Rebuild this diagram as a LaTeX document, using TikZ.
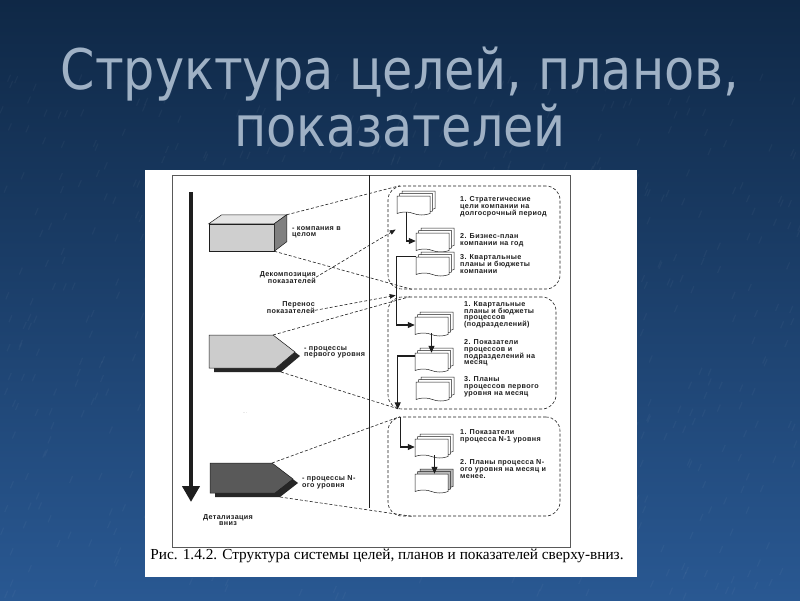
\documentclass[tikz,border=0pt]{standalone}
\usepackage{fontspec}
\usepackage{tikz}
\usetikzlibrary{arrows.meta,shapes.symbols,shadows}
\newfontfamily\titlefont[FakeStretch=0.88]{DejaVu Sans}
\newfontfamily\lblfont[LetterSpace=5]{Liberation Sans}
\newfontfamily\capfont{Liberation Serif}
\definecolor{bgtop}{HTML}{0F2846}
\definecolor{bgmid}{HTML}{1E4A82}
\definecolor{bgbot}{HTML}{295892}
\definecolor{titlegray}{HTML}{9FB1C5}
\definecolor{ink}{HTML}{1E1E1E}

\begin{document}
\begin{tikzpicture}[x=1pt,y=-1pt,
  title/.style={font=\titlefont\fontsize{56}{60}\selectfont,anchor=base,inner sep=0pt,text=titlegray},
  txt/.style={font=\lblfont\bfseries\fontsize{7.2}{6.9}\selectfont,text=ink,align=left,inner sep=0pt},
  doc/.style={tape,tape bend top=none,tape bend bottom=out and in,tape bend height=3pt,
    draw=ink,fill=white,line width=0.5pt,minimum width=33pt,minimum height=19pt,inner sep=0pt},
  stack/.style={doc,double copy shadow={shadow xshift=2.5pt,shadow yshift=2.5pt}},
  greystack/.style={doc,double copy shadow={shadow xshift=2.5pt,shadow yshift=2.5pt,fill=gray!55}},
  levbox/.style={draw=ink,dash pattern=on 3pt off 2pt,rounded corners=14pt,line width=0.6pt},
  link/.style={draw=ink,line width=1.1pt,-{Triangle[length=7pt,width=6pt]}},
  dashlink/.style={draw=ink,line width=0.6pt,dash pattern=on 3pt off 2pt}]
\useasboundingbox (0,0) rectangle (800,600);
\shade[top color=bgtop,middle color=bgmid,bottom color=bgbot] (0,0) rectangle (800,600);
% texture
\pgfmathsetseed{11}
\foreach \i in {1,...,700}{
  \pgfmathsetmacro\rx{800*rnd}
  \pgfmathsetmacro\ry{80+520*rnd}
  \draw[white,opacity=0.035,line width=1.2pt] (\rx,\ry) -- ++(3,-7);
}

% title
\node[title] (title1) at (400,89) {Структура целей, планов,};
\node[title] (title2) at (400,146) {показателей};

% sheet
\fill[white] (145,170) rectangle (637,577);
\draw[gray!70!black,line width=0.6pt] (172,175) rectangle (570,547);
\draw[ink,line width=0.5pt] (369,175) -- (369,508);
\node[font=\capfont\fontsize{15.3}{17}\selectfont,anchor=base] (caption) at (387,559)
  {Рис. 1.4.2. Структура системы целей, планов и показателей сверху-вниз.};

% left column
\draw[ink,line width=4.5pt,-{Triangle[length=16pt,width=17pt]}] (191,192) -- (191,502);
\node[txt,align=center] (detail) at (228,520) {Детализация\\вниз};

\node[draw=ink,fill=black!19,minimum width=65pt,minimum height=27pt,inner sep=0pt,line width=0.5pt] (comp) at (241.5,237.5) {};
\filldraw[fill=black!10,draw=ink,line width=0.5pt] (comp.north west) -- ++(13,-9) -- ++(65,0) coordinate (compBack) -- (comp.north east) -- cycle;
\filldraw[fill=black!50,draw=ink,line width=0.5pt] (comp.north east) -- (compBack) -- ++(0,27) -- (comp.south east) -- cycle;
\node[txt,anchor=north west] (compLbl) at (292,226) {- компания в\\целом};

\fill[black!85] (214,339) -- (278,339) -- (300,356) -- (281,372) coordinate (procLow1) -- (214,372) -- cycle;
\filldraw[fill=black!20,draw=ink,line width=0.5pt] (209,335) -- (273,335) coordinate (procTop1) -- (295,352) -- (276,368) -- (209,368) -- cycle;
\node[txt,anchor=north west] (procLbl1) at (304,346) {- процессы\\первого уровня};
\node[font=\lblfont\fontsize{4}{4}\selectfont,text=gray] (dots) at (245,413) {...};

\fill[black!85] (215,467) -- (277,467) -- (298,483) -- (280,497) coordinate (procLow2) -- (215,497) -- cycle;
\filldraw[fill=black!65,draw=ink,line width=0.5pt] (210,463) -- (272,463) coordinate (procTop2) -- (293,479) -- (275,493) -- (210,493) -- cycle;
\node[txt,anchor=north west] (procLbl2) at (302,475) {- процессы N-\\ого уровня};

\node[txt,align=right,anchor=north east] (decomp) at (316,271) {Декомпозиция\\показателей};
\node[txt,align=right,anchor=north east] (transfer) at (315,301) {Перенос\\показателей};

% levels
\node[levbox,minimum width=172pt,minimum height=103pt] (levA) at (474,237.5) {};
\node[levbox,minimum width=168pt,minimum height=112pt] (levB) at (472,353) {};
\node[levbox,minimum width=172pt,minimum height=99pt] (levC) at (474,466.5) {};

\node[stack] (A1) at (413.5,204) {};
\node[stack] (A2) at (432.5,241) {};
\node[stack] (A3) at (432.5,265) {};
\node[stack] (B1) at (431.5,325) {};
\node[stack] (B2) at (431.5,361) {};
\node[stack] (B3) at (432.5,390) {};
\node[stack] (C1) at (431.5,447) {};
\node[greystack] (C2) at (431.5,482) {};

\node[txt,anchor=north west] (A1txt) at (460,196) {1. Стратегические\\цели компании на\\долгосрочный период};
\node[txt,anchor=north west] (A2txt) at (460,233) {2. Бизнес-план\\компании на год};
\node[txt,anchor=north west] (A3txt) at (460,254) {3. Квартальные\\планы и бюджеты\\компании};
\node[txt,anchor=north west] (B1txt) at (464,301) {1. Квартальные\\планы и бюджеты\\процессов\\(подразделений)};
\node[txt,anchor=north west] (B2txt) at (464,339) {2. Показатели\\процессов и\\подразделений на\\месяц};
\node[txt,anchor=north west] (B3txt) at (464,376) {3. Планы\\процессов первого\\уровня на месяц};
\node[txt,anchor=north west] (C1txt) at (460,429) {1. Показатели\\процесса N-1 уровня};
\node[txt,anchor=north west] (C2txt) at (460,459) {2. Планы процесса N-\\ого уровня на месяц и\\менее.};

% flow
\draw[link] ([xshift=-7pt]A1.south) |- (A2.west);
\draw[link] (A3.north west) -- ++(-19,0) |- (B1.west);
\draw[link] (B1.south) -- (B2.north);
\draw[link] ([yshift=5pt]B2.west) -| ([xshift=10pt]levB.south west);
\draw[link] ([xshift=13pt]levC.north west) |- (C1.west);
\draw[link] ([xshift=3pt]C1.south) -- ([xshift=3pt]C2.north);

% projections
\draw[dashlink] (compBack) -- ([xshift=12pt]levA.north west);
\draw[dashlink] (comp.south east) -- ([xshift=24pt]levA.south west);
\draw[dashlink] (procTop1) -- ([xshift=22pt]levB.north west);
\draw[dashlink] (procLow1) -- ([xshift=12pt]levB.south west);
\draw[dashlink] (procTop2) -- ([xshift=12pt]levC.north west);
\draw[dashlink] (procLow2) -- ([xshift=24pt]levC.south west);
\draw[dashlink,-{Triangle[length=6pt,width=4.5pt]}] (decomp.east) -- ([xshift=8pt,yshift=8pt]levA.west);
\draw[dashlink,-{Triangle[length=6pt,width=4.5pt]}] ([yshift=3pt]transfer.south east) -- ([xshift=8pt,yshift=-6pt]levA.south west);
\end{tikzpicture}
\end{document}
